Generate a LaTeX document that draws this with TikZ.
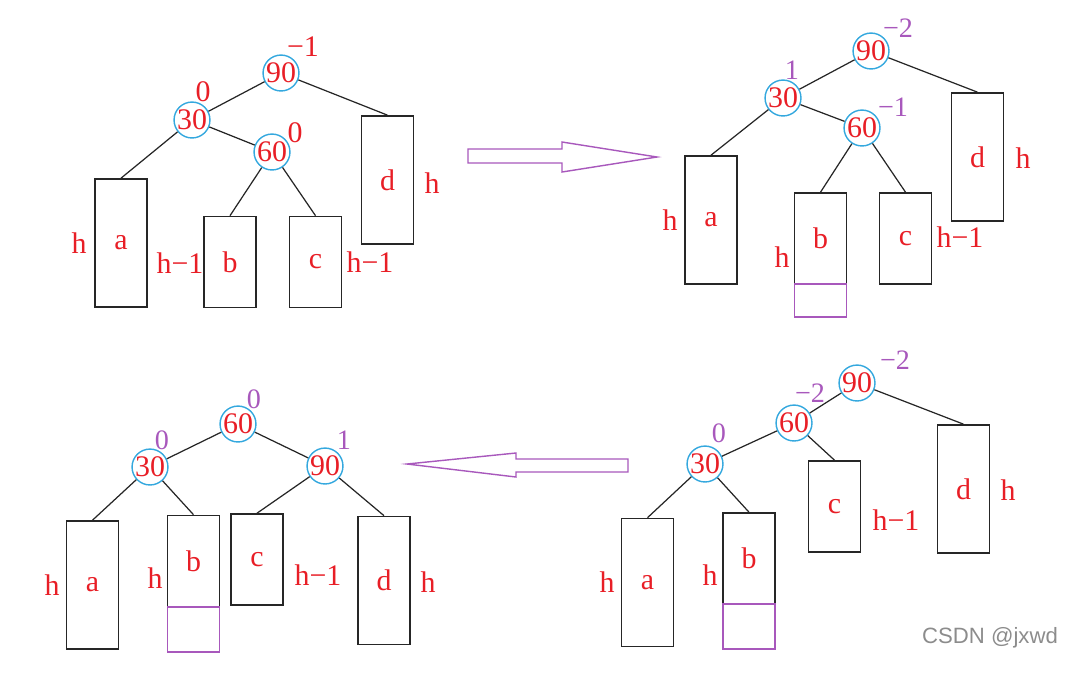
\documentclass[tikz,border=0pt]{standalone}
\usepackage{fontspec}
\setmainfont{Liberation Serif}
\newfontfamily\markfont{Liberation Sans}
\usepackage{xcolor}
\definecolor{keyred}{RGB}{232,30,38}
\definecolor{ringblue}{RGB}{52,168,222}
\definecolor{balpurple}{RGB}{168,88,188}

\begin{document}
\begin{tikzpicture}[x=0.01cm, y=-0.01cm,
    key/.style={circle, draw=ringblue, line width=0.4pt, text=keyred, inner sep=0pt, minimum size=0.33cm, font=\fontsize{8.5}{9}\selectfont},
    sub/.style={draw=black!85, line width=0.45pt, inner sep=0pt, text=keyred, minimum width=0.52cm, font=\fontsize{8.5}{9}\selectfont},
    tall/.style={sub, minimum height=1.28cm},
    short/.style={sub, minimum height=0.91cm},
    extbox/.style={draw=balpurple, line width=0.4pt, inner sep=0pt, minimum width=0.52cm},
    lbl/.style={text=keyred, inner sep=0pt, font=\fontsize{8.5}{9}\selectfont},
    oldbal/.style={text=keyred, inner sep=0pt, font=\fontsize{8.5}{9}\selectfont},
    newbal/.style={text=balpurple, inner sep=0pt, font=\fontsize{8}{9}\selectfont},
    edge/.style={draw=black!85, line width=0.35pt}]
    \useasboundingbox (0,0) rectangle (1089,672);

    % Before insertion
    \node[key] (ak90) at (281,73) {90};
    \node[key] (ak30) at (192,120) {30};
    \node[key] (ak60) at (272,152) {60};
    \node[tall] (aa) at (121,243) {a};
    \node[short] (ab) at (230,262) {b};
    \node[short] (ac) at (315.5,262) {c};
    \node[tall] (ad) at (387.5,180) {d};
    \draw[edge] (ak90) -- (ak30);
    \draw[edge] (ak90) -- (ad.north);
    \draw[edge] (ak30) -- (aa.north);
    \draw[edge] (ak30) -- (ak60);
    \draw[edge] (ak60) -- (ab.north);
    \draw[edge] (ak60) -- (ac.north);
    \node[oldbal] (ab90) at (303,47) {−1};
    \node[oldbal] (ab30) at (203,92) {0};
    \node[oldbal] (ab60) at (295,133) {0};
    \node[lbl] (aha) at (79,243) {h};
    \node[lbl] (ahb) at (180,263) {h−1};
    \node[lbl] (ahc) at (370,262) {h−1};
    \node[lbl] (ahd) at (432,183) {h};

    % After insertion into b
    \node[key] (bk90) at (871,51) {90};
    \node[key] (bk30) at (783,98) {30};
    \node[key] (bk60) at (862,128) {60};
    \node[tall] (ba) at (711,220) {a};
    \node[short] (bb) at (820.5,238.5) {b};
    \node[extbox, minimum height=0.33cm] (bbx) at (820.5,300.5) {};
    \node[short] (bc) at (905.5,238.5) {c};
    \node[tall] (bd) at (977.5,157) {d};
    \draw[edge] (bk90) -- (bk30);
    \draw[edge] (bk90) -- (bd.north);
    \draw[edge] (bk30) -- (ba.north);
    \draw[edge] (bk30) -- (bk60);
    \draw[edge] (bk60) -- (bb.north);
    \draw[edge] (bk60) -- (bc.north);
    \node[newbal] (bb90) at (898,28) {−2};
    \node[newbal] (bb30) at (792,70) {1};
    \node[newbal] (bb60) at (893,107) {−1};
    \node[lbl] (bha) at (670,220) {h};
    \node[lbl] (bhb) at (782,257) {h};
    \node[lbl] (bhc) at (960,237) {h−1};
    \node[lbl] (bhd) at (1023,158) {h};

    % Right rotation at 60
    \node[key] (ck90) at (857,383) {90};
    \node[key] (ck60) at (794,423) {60};
    \node[key] (ck30) at (705,464) {30};
    \node[tall] (ca) at (647.5,582.5) {a};
    \node[short] (cb) at (749,558.5) {b};
    \node[extbox, minimum height=0.45cm] (cbx) at (749,626.5) {};
    \node[short] (cc) at (834.5,506.5) {c};
    \node[tall] (cd) at (963.5,489) {d};
    \draw[edge] (ck90) -- (ck60);
    \draw[edge] (ck90) -- (cd.north);
    \draw[edge] (ck60) -- (ck30);
    \draw[edge] (ck60) -- (cc.north);
    \draw[edge] (ck30) -- (ca.north);
    \draw[edge] (ck30) -- (cb.north);
    \node[newbal] (cb90) at (895,360) {−2};
    \node[newbal] (cb60) at (810,393) {−2};
    \node[newbal] (cb30) at (719,433) {0};
    \node[lbl] (cha) at (607,582) {h};
    \node[lbl] (chb) at (710,575) {h};
    \node[lbl] (chc) at (896,520) {h−1};
    \node[lbl] (chd) at (1008,490) {h};

    % Left rotation at 90
    \node[key] (dk60) at (238,424) {60};
    \node[key] (dk30) at (150,467) {30};
    \node[key] (dk90) at (325,466) {90};
    \node[tall] (da) at (92.5,585) {a};
    \node[short] (db) at (193.5,561) {b};
    \node[extbox, minimum height=0.45cm] (dbx) at (193.5,629.5) {};
    \node[short] (dc) at (257,559.5) {c};
    \node[tall] (dd) at (384,580.5) {d};
    \draw[edge] (dk60) -- (dk30);
    \draw[edge] (dk60) -- (dk90);
    \draw[edge] (dk30) -- (da.north);
    \draw[edge] (dk30) -- (db.north);
    \draw[edge] (dk90) -- (dc.north);
    \draw[edge] (dk90) -- (dd.north);
    \node[newbal] (db60) at (254,399) {0};
    \node[newbal] (db30) at (162,440) {0};
    \node[newbal] (db90) at (344,440) {1};
    \node[lbl] (dha) at (52,585) {h};
    \node[lbl] (dhb) at (155,578) {h};
    \node[lbl] (dhc) at (318,575) {h−1};
    \node[lbl] (dhd) at (428,582) {h};

    % Block arrows
    \draw[balpurple, line width=0.4pt] (468,149) -- (562,149) -- (562,142) -- (657,157)
        -- (562,172) -- (562,163) -- (468,163) -- cycle;
    \draw[balpurple, line width=0.4pt] (628,459) -- (516,459) -- (516,453) -- (407,464)
        -- (516,477) -- (516,472) -- (628,472) -- cycle;

    \node[text=black!45, font=\markfont\fontsize{6.3}{7}\selectfont] (mark) at (990,638) {CSDN @jxwd};
\end{tikzpicture}
\end{document}
